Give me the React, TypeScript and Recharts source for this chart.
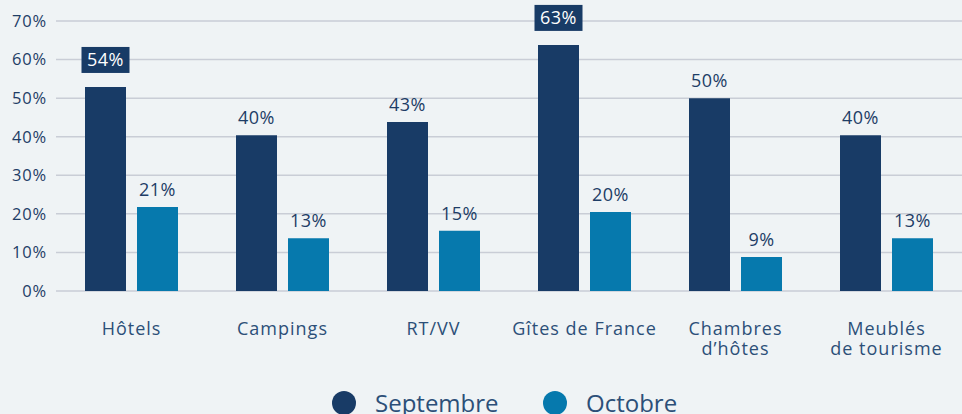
import React from 'react';
import { BarChart, Bar, XAxis, YAxis, CartesianGrid, LabelList, Legend } from 'recharts';

const categories = ['Hôtels', 'Campings', 'RT/VV', 'Gîtes de France', 'Chambres\nd’hôtes', 'Meublés\nde tourisme'];
const septembre = [52.9, 40.4, 43.8, 63.8, 50.0, 40.4];
const octobre = [21.8, 13.7, 15.6, 20.5, 8.8, 13.7];
const septembreLabels = ['54%', '40%', '43%', '63%', '50%', '40%'];
const octobreLabels = ['21%', '13%', '15%', '20%', '9%', '13%'];
const septembreHighlight = [true, false, false, true, false, false];
const octobreHighlight = [false, false, false, false, false, false];
const yTicks = [0, 10, 20, 30, 40, 50, 60, 70];
const seriesNames = ['Septembre', 'Octobre'];

const NAVY = '#183b66';
const TEAL = '#0679ad';
const TEXT = '#1e3d66';
const FONT = '"Open Sans", "Noto Sans", sans-serif';

const data = categories.map((c, i) => ({
  name: c,
  sept: septembre[i],
  oct: octobre[i],
  septLabel: septembreLabels[i],
  octLabel: octobreLabels[i],
}));

const makeLabel = (labels: string[], highlights: boolean[]) => (props: any) => {
  const { x, y, width, index } = props;
  const cx = Number(x) + Number(width) / 2;
  const top = Number(y);
  const text = labels[index] ?? props.value;
  if (highlights[index]) {
    const w = 48;
    const h = 26;
    return (
      <g>
        <rect x={cx - w / 2} y={top - 14 - h} width={w} height={h} fill={NAVY} />
        <text x={cx} y={top - 14 - h / 2 + 6.5} textAnchor="middle" fill="#ffffff" fontSize={18} letterSpacing={0.5} fontFamily={FONT}>
          {text}
        </text>
      </g>
    );
  }
  return (
    <text x={cx} y={top - 11} textAnchor="middle" fill={TEXT} fontSize={18} letterSpacing={0.5} fontFamily={FONT}>
      {text}
    </text>
  );
};

const XTick = (props: any) => {
  const { x, y, payload } = props;
  const lines = String(payload.value).split('\n');
  return (
    <text x={x} y={y} textAnchor="middle" fill="#2c4f78" fontSize={18} letterSpacing={1} fontFamily={FONT}>
      {lines.map((l, i) => (
        <tspan key={i} x={x} dy={i === 0 ? 44 : 20}>
          {l}
        </tspan>
      ))}
    </text>
  );
};

const LegendContent = () => (
  <svg width={962} height={50} style={{ display: 'block' }}>
    <circle cx={344} cy={39} r={12} fill={NAVY} />
    <text x={375} y={48} fontSize={24} fill="#2c4f78" fontFamily={FONT}>{seriesNames[0]}</text>
    <circle cx={555} cy={39} r={12} fill={TEAL} />
    <text x={586} y={48} fontSize={24} fill="#2c4f78" fontFamily={FONT}>{seriesNames[1]}</text>
  </svg>
);

export default function App() {
  return (
    <div style={{ position: 'absolute', left: 0, top: 0, width: 962, height: 414, background: '#eff3f5', overflow: 'hidden' }}>
      <BarChart
        width={962}
        height={414}
        data={data}
        margin={{ top: 21, right: 0, bottom: 0, left: 0 }}
        barSize={41}
        barGap={11}
      >
        <CartesianGrid vertical={false} stroke="#c9cdd6" strokeWidth={1.5} />
        <XAxis
          dataKey="name"
          axisLine={false}
          tickLine={false}
          tickSize={0}
          tickMargin={0}
          height={73}
          interval={0}
          tick={<XTick />}
        />
        <YAxis
          domain={[0, 70]}
          ticks={yTicks}
          tickFormatter={(v: number) => `${v}%`}
          axisLine={false}
          tickLine={false}
          tickSize={0}
          tickMargin={9}
          width={56}
          tick={{ fill: TEXT, fontSize: 16.5, fontFamily: FONT, letterSpacing: 0.8 }}
          interval={0}
        />
        <Legend verticalAlign="bottom" height={50} content={<LegendContent />} />
        <Bar dataKey="sept" name={seriesNames[0]} fill={NAVY} isAnimationActive={false}>
          <LabelList dataKey="septLabel" content={makeLabel(septembreLabels, septembreHighlight)} />
        </Bar>
        <Bar dataKey="oct" name={seriesNames[1]} fill={TEAL} isAnimationActive={false}>
          <LabelList dataKey="octLabel" content={makeLabel(octobreLabels, octobreHighlight)} />
        </Bar>
      </BarChart>
    </div>
  );
}
